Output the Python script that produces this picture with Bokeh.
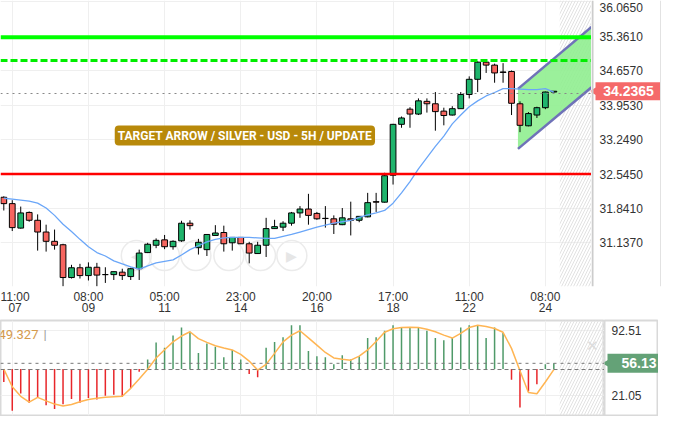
from bokeh.plotting import figure
from bokeh.models import (ColumnDataSource, FixedTicker, Span, Label, BoxAnnotation,
                          Range1d)
from bokeh.layouts import column, row
from bokeh.embed import file_html
from bokeh.resources import INLINE
from bokeh.core.properties import value

# ---------------- data ----------------
opens = [32.07, 31.94, 31.44, 31.76, 31.60, 31.36, 31.17, 31.10, 30.43, 30.63,
         30.47, 30.64, 30.49, 30.49, 30.54, 30.45, 30.61, 30.94, 31.09, 31.20,
         31.06, 31.18, 31.54, 31.04, 31.00, 31.29, 31.35, 31.14, 31.25, 31.12,
         30.92, 31.09, 31.43, 31.46, 31.54, 31.75, 31.83, 31.74, 31.64, 31.63,
         31.51, 31.63, 31.60, 31.67, 31.98, 31.97, 32.52, 33.56, 33.87, 33.77,
         34.03, 33.98, 33.83, 33.75, 33.88, 34.17, 34.48, 34.83, 34.77, 34.63,
         34.64, 33.98, 33.53, 33.75, 33.90, 34.22]
highs = [32.09, 32.01, 31.88, 31.78, 31.72, 31.51, 31.41, 31.12, 30.69, 30.71,
         30.74, 30.73, 30.64, 30.55, 30.61, 30.63, 31.00, 31.14, 31.23, 31.30,
         31.19, 31.59, 31.60, 31.22, 31.31, 31.50, 31.49, 31.25, 31.25, 31.16,
         31.16, 31.65, 31.61, 31.58, 31.77, 31.89, 32.14, 31.77, 31.89, 31.70,
         31.85, 31.98, 31.68, 32.16, 32.16, 32.57, 33.57, 33.72, 33.91, 34.09,
         34.09, 34.22, 33.90, 33.93, 34.22, 34.54, 34.85, 34.85, 34.80, 34.81,
         34.66, 34.03, 33.81, 33.92, 34.23, 34.24]
lows = [31.80, 31.38, 31.43, 31.57, 30.98, 30.96, 31.00, 30.25, 30.41, 30.41,
        30.37, 30.25, 30.32, 30.38, 30.38, 30.38, 30.38, 30.93, 31.03, 31.01,
        31.00, 31.16, 31.41, 30.90, 30.87, 31.29, 30.96, 30.98, 31.12, 30.72,
        30.92, 30.85, 31.43, 31.38, 31.49, 31.65, 31.51, 31.61, 31.45, 31.32,
        31.50, 31.29, 31.56, 31.66, 31.77, 31.96, 32.33, 33.49, 33.49, 33.75,
        33.80, 33.43, 33.54, 33.74, 33.88, 34.09, 34.22, 34.61, 34.41, 34.41,
        33.75, 33.40, 33.52, 33.69, 33.87, 34.21]
closes = [31.94, 31.45, 31.75, 31.60, 31.36, 31.17, 31.09, 30.43, 30.63, 30.47,
          30.64, 30.48, 30.49, 30.55, 30.47, 30.61, 30.93, 31.11, 31.19, 31.06,
          31.17, 31.54, 31.49, 31.15, 31.31, 31.34, 31.12, 31.25, 31.12, 30.93,
          31.09, 31.43, 31.47, 31.54, 31.75, 31.83, 31.70, 31.63, 31.635, 31.52,
          31.65, 31.60, 31.68, 31.96, 31.97, 32.51, 33.56, 33.69, 33.77, 34.04,
          33.98, 33.82, 33.74, 33.88, 34.17, 34.48, 34.83, 34.77, 34.61, 34.62,
          33.99, 33.54, 33.78, 33.90, 34.22, 34.2365]
ma = [32.05, 32.03, 32.01, 31.99, 31.95, 31.85, 31.70, 31.52, 31.37, 31.21,
      31.06, 30.94, 30.87, 30.77, 30.71, 30.65, 30.60, 30.67, 30.73, 30.76,
      30.79, 30.89, 31.00, 31.08, 31.16, 31.21, 31.24, 31.25, 31.25, 31.25,
      31.24, 31.23, 31.23, 31.27, 31.31, 31.36, 31.41, 31.46, 31.50, 31.54,
      31.57, 31.60, 31.66, 31.71, 31.75, 31.80, 31.95, 32.16, 32.39, 32.65,
      32.88, 33.11, 33.32, 33.57, 33.75, 33.92, 34.04, 34.14, 34.21, 34.29,
      34.29, 34.28, 34.27, 34.27, 34.29, 34.22]
osc_hist = [35.8, 4.2, 23.1, 13.0, 19.3, 10.2, 6.0, 11.3, 17.2, 13.0,
            18.2, 16.5, 20.7, 21.8, 19.3, 28.7, 47.0, 60.2, 78.8, 73.3,
            86.5, 95.3, 90.7, 67.3, 77.8, 74.3, 62.8, 70.8, 60.2, 44.5,
            41.0, 73.3, 79.6, 84.8, 97.8, 97.8, 69.7, 63.8, 62.8, 55.0,
            64.9, 60.2, 63.8, 83.8, 84.8, 91.8, 97.8, 95.3, 95.3, 95.3,
            91.8, 83.8, 81.3, 83.8, 95.3, 97.8, 97.8, 83.8, 95.3, 89.4,
            38.2, 7.7, 25.2, 33.3, 55.0, 56.13]
osc_signal = [49.7, 30.5, 20.0, 13.7, 18.9, 15.0, 11.5, 9.5, 11.0, 14.0,
              16.5, 18.0, 19.0, 19.5, 20.0, 28.7, 39.0, 49.7, 62.0, 71.0,
              79.6, 86.0, 90.7, 83.1, 79.0, 75.4, 73.0, 70.8, 66.0, 58.6,
              48.7, 55.0, 67.0, 79.6, 87.0, 91.8, 84.0, 76.0, 68.0, 62.0,
              60.5, 59.6, 64.0, 70.8, 80.0, 90.1, 94.0, 95.3, 95.5, 95.3,
              93.5, 90.7, 87.0, 83.8, 89.0, 95.3, 97.8, 96.5, 94.3, 90.1,
              72.5, 48.1, 24.2, 22.8, 35.7, 49.3]
idx = list(range(len(opens)))

time_ticks = [1, 10, 19, 28, 37, 46, 55, 64]
time_labels = ["11:00\n07", "08:00\n09", "05:00\n11", "23:00\n14",
               "20:00\n16", "17:00\n18", "11:00\n22", "08:00\n24"]
price_ticks = [31.137, 31.841, 32.545, 33.249, 33.953, 34.657, 35.361, 36.065]
osc_ticks = [21.05, 92.51]

target_solid = 35.34
target_dashed = 34.866
last_price_line = 34.19
support_line = 32.545
last_price = 34.2365
osc_last = 56.13
signal_last = 49.327
osc_base = 50.0

channel_x = [60.76, 69.45]
channel_upper = [34.285, 35.55]
channel_lower = [33.058, 34.316]
future_start = 65.7

nav_x = [15.66, 18.98, 22.7, 26.6, 30.33, 34.04]
nav_y = [30.88] * 6

title_text = "TARGET ARROW / SILVER - USD - 5H / UPDATE"

GREEN = "#1fb46c"
RED = "#f6655f"
FONT = "Liberation Sans"

MAIN_H, SUB_H = 318, 98
MAIN_FW, MAIN_AW = 591, 70
SUB_FW, SUB_AW = 604, 54


def style_time_axis(ax, alpha=1.0):
    ax.axis_line_color = None
    ax.major_tick_line_color = None
    ax.minor_tick_line_color = None
    ax.major_tick_out = 0
    ax.major_tick_in = 0
    ax.major_label_text_font = FONT
    ax.major_label_text_font_size = "12px"
    ax.major_label_text_line_height = 0.85
    ax.major_label_text_color = "#333333"
    ax.major_label_text_alpha = alpha
    ax.major_label_standoff = 3


# ---------------- main price panel ----------------
price_range = Range1d(30.247, 36.09)
p = figure(width=MAIN_FW, height=MAIN_H, x_range=Range1d(-0.39, 69.45),
           y_range=price_range, y_axis_location="right",
           output_backend="svg", toolbar_location=None,
           min_border_left=0, min_border_top=0, min_border_right=0,
           min_border_bottom=20)
p.outline_line_color = None
p.yaxis.visible = False
p.ygrid.ticker = FixedTicker(ticks=price_ticks)
p.grid.grid_line_color = "#efefef"

p.xaxis.ticker = FixedTicker(ticks=time_ticks)
p.xaxis.major_label_overrides = {t: l for t, l in zip(time_ticks, time_labels)}
style_time_axis(p.xaxis[0])

p.add_layout(BoxAnnotation(left=future_start, fill_alpha=0, line_color=None,
                           hatch_pattern="/", hatch_color="#e2e2e2",
                           hatch_scale=6, hatch_weight=1, level="underlay"))

# navigation buttons (faint)
p.scatter(nav_x, nav_y, size=30, marker="circle", fill_color=None,
          line_color="#ebebeb", line_width=1.5)
p.text([nav_x[0], nav_x[-1]], [nav_y[0], nav_y[-1]], text=["◀", "▶"],
       text_color="#e6e6e6", text_font_size="14px", text_align="center",
       text_baseline="middle")

# channel (target arrow)
p.patch([channel_x[0], channel_x[1], channel_x[1], channel_x[0]],
        [channel_upper[0], channel_upper[1], channel_lower[1], channel_lower[0]],
        fill_color="#90ee90", fill_alpha=0.9, line_color=None)
p.line(channel_x, channel_upper, line_color="#6f72b8", line_width=2.5)
p.line(channel_x, channel_lower, line_color="#6f72b8", line_width=2.5)

# horizontal levels
p.add_layout(Span(location=target_solid, dimension="width", line_color="#00ff00",
                  line_width=4))
p.add_layout(Span(location=target_dashed, dimension="width", line_color="#00ee00",
                  line_width=3, line_dash="7 3"))
p.add_layout(Span(location=last_price_line, dimension="width", line_color="#888888",
                  line_width=1, line_dash="2 4"))
p.add_layout(Span(location=support_line, dimension="width", line_color="#ff0000",
                  line_width=2.5))

# candles
colors = [GREEN if c >= o else RED for o, c in zip(opens, closes)]
src = ColumnDataSource(dict(x=idx, o=opens, h=highs, l=lows, c=closes,
                            top=[max(o, c) for o, c in zip(opens, closes)],
                            bot=[min(o, c) for o, c in zip(opens, closes)],
                            col=colors))
p.segment(x0="x", y0="h", x1="x", y1="l", source=src, line_color="black", line_width=1)
p.vbar(x="x", top="top", bottom="bot", width=0.68, source=src, fill_color="col",
       line_color="black", line_width=1)

# moving average
p.line(idx, ma, line_color="#6aa6f8", line_width=1.3)

p.add_layout(Label(x=28.49, y=33.33, text=title_text, text_align="center",
                   text_baseline="middle", text_color="white",
                   text_font="Roboto", text_font_style="bold",
                   text_font_size="12px", background_fill_color="#b8890a",
                   border_radius=4, padding=3))

# ---------------- price scale strip ----------------
pa = figure(width=MAIN_AW, height=MAIN_H, x_range=Range1d(-1, MAIN_AW - 1),
            y_range=price_range, y_axis_location=None,
            output_backend="svg", toolbar_location=None,
            min_border_left=0, min_border_top=0, min_border_right=0,
            min_border_bottom=20)
pa.outline_line_color = None
pa.grid.visible = False
pa.xaxis.ticker = FixedTicker(ticks=[30])
pa.xaxis.major_label_overrides = {30: time_labels[0]}
style_time_axis(pa.xaxis[0], alpha=0.0)
pa.add_layout(Span(location=0, dimension="height", line_color="#cccccc", line_width=2))
pa.add_layout(Span(location=MAIN_AW - 2, dimension="height", line_color="#e2e2e2",
                   line_width=1))
# the topmost tick label sits at the very edge; nudge it down so it stays readable
label_nudge = [0] * (len(price_ticks) - 1) + [6]
pa.text(x=[7] * len(price_ticks), y=price_ticks, y_offset=label_nudge,
        text=[f"{t:.4f}" for t in price_ticks], text_font=value(FONT),
        text_font_size="12px", text_color="#333333", text_align="left",
        text_baseline="middle")
pa.scatter([2], [last_price], marker="triangle", angle=1.5708, size=9,
           fill_color="#f56a6a", line_color=None)
pa.rect(x=[36], y=[last_price], width=66, height=18, height_units="screen",
        fill_color="#f56a6a", line_color=None)
pa.text(x=[36], y=[last_price], text=[f"{last_price:.4f}"], text_font=value(FONT),
        text_font_style="bold", text_font_size="14px", text_color="white",
        text_align="center", text_baseline="middle")

# ---------------- oscillator panel ----------------
osc_range = Range1d(-1, 103)
q = figure(width=SUB_FW, height=SUB_H, x_range=Range1d(-0.39, 70.99),
           y_range=osc_range, y_axis_location="right",
           output_backend="svg", toolbar_location=None,
           min_border_left=0, min_border_top=2, min_border_right=0,
           min_border_bottom=1)
q.xaxis.visible = False
q.yaxis.visible = False
q.xgrid.ticker = FixedTicker(ticks=time_ticks)
q.ygrid.ticker = FixedTicker(ticks=osc_ticks)
q.outline_line_color = "#d9d9d9"
q.outline_line_width = 2
q.grid.grid_line_color = "#efefef"

q.add_layout(BoxAnnotation(left=future_start, fill_alpha=0, line_color=None,
                           hatch_pattern="/", hatch_color="#e2e2e2",
                           hatch_scale=6, hatch_weight=1, level="underlay"))

hcol = ["#4f9a69" if v >= osc_base else "#e8262a" for v in osc_hist]
q.segment(x0=idx, y0=[osc_base] * len(idx), x1=idx, y1=osc_hist,
          line_color=hcol, line_width=1.5)
q.add_layout(Span(location=osc_last, dimension="width", line_color="#777777",
                  line_width=1, line_dash="3 4"))
q.add_layout(Span(location=signal_last, dimension="width", line_color="#777777",
                  line_width=1, line_dash="4 3"))
q.line(idx, osc_signal, line_color="#ffb553", line_width=1.5)

q.add_layout(Label(x=-0.39, y=88, x_offset=-2, text=f"{signal_last:.3f}", text_align="left",
                   text_baseline="middle", text_color="#d49a4c",
                   text_font="Roboto", text_font_size="13px"))
q.add_layout(Label(x=4.7, y=88, text="|", text_align="left",
                   text_baseline="middle", text_color="#999999",
                   text_font="Roboto", text_font_size="13px"))
q.add_layout(Label(x=69.6, y=76, text="✕", text_align="center",
                   text_baseline="middle", text_color="#dddddd",
                   text_font_size="15px"))

# ---------------- oscillator scale strip ----------------
qa = figure(width=SUB_AW, height=SUB_H, x_range=Range1d(-1, SUB_AW - 1),
            y_range=osc_range, x_axis_location=None, y_axis_location=None,
            output_backend="svg", toolbar_location=None,
            min_border_left=0, min_border_top=2, min_border_right=0,
            min_border_bottom=1)
qa.grid.visible = False
qa.outline_line_color = "#d9d9d9"
qa.outline_line_width = 2
qa.text(x=[6] * len(osc_ticks), y=osc_ticks, text=[f"{t:.2f}" for t in osc_ticks],
        text_font=value(FONT), text_font_size="12px", text_color="#333333",
        text_align="left", text_baseline="middle")
qa.scatter([2], [osc_last], marker="triangle", angle=1.5708, size=9,
           fill_color="#64a277", line_color=None)
qa.rect(x=[27.5], y=[osc_last], width=51, height=19, height_units="screen",
        fill_color="#64a277", line_color=None)
qa.text(x=[51], y=[osc_last], text=[f"{osc_last:.2f}"], text_font=value(FONT),
        text_font_style="bold", text_font_size="14px", text_color="white",
        text_align="right", text_baseline="middle")

layout = column(row(p, pa), row(q, qa))
open("out.html", "w").write(file_html(layout, INLINE))
